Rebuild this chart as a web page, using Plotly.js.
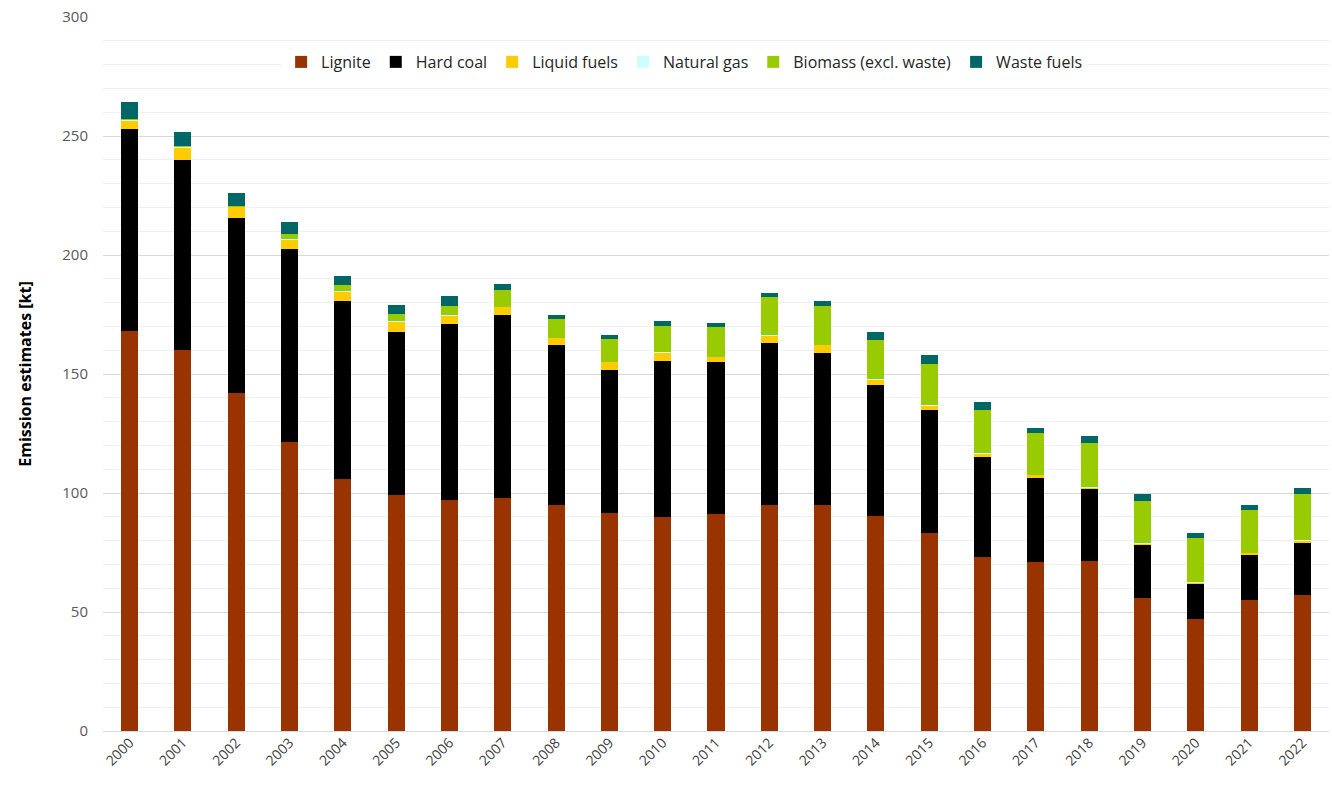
<!DOCTYPE html>
<html>
<head>
<meta charset="utf-8">
<script src="https://cdn.plot.ly/plotly-3.0.1.min.js"></script>
<style>html,body{margin:0;padding:0;background:#fff;}#chart{width:1332px;height:789px;}</style>
</head>
<body>
<div id="chart"></div>
<script>
const years = ['2000','2001','2002','2003','2004','2005','2006','2007','2008','2009','2010','2011','2012','2013','2014','2015','2016','2017','2018','2019','2020','2021','2022'];
const lignite   = [168, 160, 142, 121.5, 106, 99, 97, 98, 95, 91.5, 90, 91, 95, 95, 90.5, 83, 73, 71, 71.5, 56, 47, 55, 57];
const hardCoal  = [85, 80, 73.5, 81, 74.5, 68.5, 74, 77, 67, 60, 65.5, 64, 68, 64, 55, 52, 42, 35.5, 30, 22, 14.7, 19, 22];
const liquid    = [3.5, 5, 4.5, 4, 4, 4.5, 3.5, 3, 3, 3.5, 3.5, 2, 3, 3, 2, 1.7, 1.5, 1, 0.8, 0.5, 0.6, 0.6, 1];
const natGas    = [0.2, 0.2, 0.2, 0.2, 0.2, 0.2, 0.2, 0.2, 0.2, 0.2, 0.2, 0.2, 0.2, 0.2, 0.2, 0.2, 0.2, 0.2, 0.2, 0.3, 0.2, 0.2, 0.2];
const biomass   = [0.5, 0.5, 0.3, 2, 2.5, 3, 4, 7, 8, 9.5, 11, 12.5, 16, 16.5, 16.5, 17.5, 18, 17.4, 18.5, 18, 18.5, 18.2, 19.5];
const waste     = [7, 6, 5.5, 5, 4, 4, 4, 2.5, 1.5, 1.5, 2, 1.7, 2, 2, 3.4, 3.5, 3.4, 2.4, 2.8, 2.6, 2.2, 1.9, 2.5];

const seriesNames = ['Lignite','Hard coal','Liquid fuels','Natural gas','Biomass (excl. waste)','Waste fuels'];
const seriesData = [lignite, hardCoal, liquid, natGas, biomass, waste];
const seriesColors = ['#993300','#000000','#FFCC00','#CCFFFF','#99CC00','#006666'];

const traces = seriesNames.map((n,i)=>({
  type:'bar', name:n, x:years, y:seriesData[i],
  marker:{color:seriesColors[i], line:{width:0}},
  hoverinfo:'x+y+name'
}));

const font = "Open Sans, Arial, sans-serif";
const layout = {
  width:1332, height:789,
  margin:{l:103, r:3, t:17, b:58},
  barmode:'stack', bargap:0.68,
  paper_bgcolor:'#ffffff', plot_bgcolor:'#ffffff',
  font:{family:font, size:14, color:'#595959'},
  showlegend:true,
  legend:{orientation:'h', x:0.474, xanchor:'center', y:0.937, yanchor:'middle',
          font:{family:font, size:16, color:'#262626'}, traceorder:'normal', itemwidth:30},
  xaxis:{type:'category', tickangle:-45, showgrid:false, zeroline:false, showline:false,
         ticks:'', tickfont:{family:font, size:14, color:'#404040'}, range:[-0.5,22.5]},
  yaxis:{range:[0,300], dtick:50, tick0:0, showgrid:true, gridcolor:'#d9d9d9', gridwidth:1,
         zeroline:true, zerolinecolor:'#d9d9d9', showline:false, ticks:'',
         minor:{dtick:10, showgrid:true, gridcolor:'#f0f0f0', gridwidth:1},
         tickfont:{family:font, size:15, color:'#595959'}, ticklabelstandoff:14,
         title:{text:'<b>Emission estimates [kt]</b>', font:{family:font, size:16, color:'#000000'}, standoff:26}}
};
Plotly.newPlot('chart', traces, layout, {displayModeBar:false, staticPlot:true});
</script>
</body>
</html>
